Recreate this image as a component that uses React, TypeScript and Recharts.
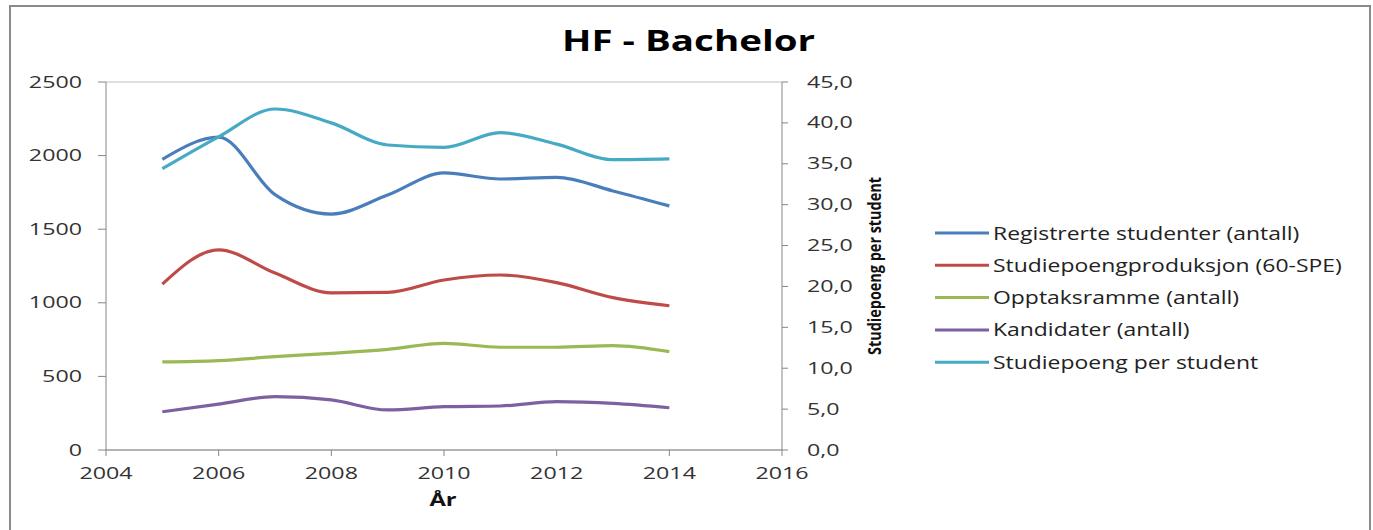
import { CartesianGrid, Legend, Line, LineChart, XAxis, YAxis } from "recharts";

const years = [2005, 2006, 2007, 2008, 2009, 2010, 2011, 2012, 2013, 2014];
const registrerte = [1975, 2125, 1735, 1603, 1732, 1882, 1841, 1852, 1760, 1658];
const produksjon = [1127, 1360, 1202, 1068, 1071, 1155, 1189, 1137, 1035, 980];
const opptaksramme = [598, 607, 634, 657, 684, 725, 698, 698, 709, 668];
const kandidater = [260, 312, 362, 340, 272, 294, 299, 328, 317, 287];
const spPerStudent = [34.4, 38.3, 41.7, 40.0, 37.3, 37.0, 38.8, 37.4, 35.5, 35.6];

const xTicks = [2004, 2006, 2008, 2010, 2012, 2014, 2016];
const leftTicks = [0, 500, 1000, 1500, 2000, 2500];
const rightTicks = [0, 5, 10, 15, 20, 25, 30, 35, 40, 45];

const seriesKeys = ["registrerte", "produksjon", "opptaksramme", "kandidater", "spPerStudent"];
const seriesNames = [
	"Registrerte studenter (antall)",
	"Studiepoengproduksjon (60-SPE)",
	"Opptaksramme (antall)",
	"Kandidater (antall)",
	"Studiepoeng per student",
];
const seriesColors = ["#4A7EBB", "#BE4B48", "#98B954", "#7D60A0", "#46AAC5"];

const data = years.map((year, i) => ({
	year,
	registrerte: registrerte[i],
	produksjon: produksjon[i],
	opptaksramme: opptaksramme[i],
	kandidater: kandidater[i],
	spPerStudent: spPerStudent[i],
}));

const FONT = "'Open Sans', sans-serif";
const AXIS = "#868686";

const fmtComma = (v: number) => v.toFixed(1).replace(".", ",");

const makeTick =
	(fmt: (v: number) => string, dy: string) =>
	(props: any) => {
		const { x, y, payload, textAnchor } = props;
		return (
			<text
				transform={`translate(${x},${y}) scale(1.5,1)`}
				textAnchor={textAnchor}
				dy={dy}
				fontFamily={FONT}
				fontSize={15.5}
				fill='#333'
			>
				{fmt(payload.value)}
			</text>
		);
	};

const LegendBox = () => (
	<svg width={440} height={170}>
		{seriesNames.map((name, i) => {
			const cy = 15 + i * 32.3;
			return (
				<g key={name}>
					<line x1={5} x2={59} y1={cy} y2={cy} stroke={seriesColors[i]} strokeWidth={3} />
					<text
						transform={`translate(63,${cy + 6.5}) scale(1.24,1)`}
						fontFamily={FONT}
						fontSize={18.5}
						fill='#222'
					>
						{name}
					</text>
				</g>
			);
		})}
	</svg>
);

export default function App() {
	return (
		<div style={{ position: "absolute", left: 0, top: 0, width: 1373, height: 530, overflow: "hidden", background: "#fff" }}>
			<div
				style={{
					position: "absolute",
					left: 9,
					top: 5,
					width: 1358,
					height: 530,
					border: "2px solid #8a8a8a",
					borderBottom: "none",
				}}
			/>
			<div style={{ position: "absolute", left: 0, top: 0 }}>
				<LineChart
					width={1373}
					height={530}
					data={data}
					margin={{ top: 82, right: 411, bottom: 20, left: 46 }}
				>
					<CartesianGrid vertical={false} stroke='#bfbfbf' />
					<XAxis
						dataKey='year'
						type='number'
						domain={[2004, 2016]}
						ticks={xTicks}
						height={60}
						tickSize={6}
						tickMargin={12}
						stroke={AXIS}
						tick={makeTick((v) => String(v), "0.71em")}
						label={{
							content: () => (
								<text
									transform='translate(443,506) scale(1.4,1)'
									textAnchor='middle'
									fontFamily={FONT}
									fontWeight='bold'
									fontSize={17}
									fill='#111'
								>
									År
								</text>
							),
						}}
					/>
					<YAxis
						yAxisId='left'
						domain={[0, 2500]}
						ticks={leftTicks}
						width={60}
						tickSize={8}
						tickMargin={16}
						stroke={AXIS}
						tick={makeTick((v) => String(v), "0.36em")}
					/>
					<YAxis
						yAxisId='right'
						orientation='right'
						domain={[0, 45]}
						ticks={rightTicks}
						width={180}
						tickSize={6}
						tickMargin={19}
						stroke={AXIS}
						tick={makeTick(fmtComma, "0.36em")}
						label={{
							content: () => (
								<text
									transform='translate(881,266) rotate(-90) scale(1,1.4)'
									textAnchor='middle'
									fontFamily={FONT}
									fontWeight='bold'
									fontSize={13.3}
									textLength={178}
									lengthAdjust='spacingAndGlyphs'
									fill='#111'
								>
									Studiepoeng per student
								</text>
							),
						}}
					/>
					<Legend
						layout='vertical'
						align='center'
						verticalAlign='middle'
						wrapperStyle={{ left: 930, top: 218, width: 440, height: 170 }}
						content={() => <LegendBox />}
					/>
					{seriesKeys.map((key, i) => (
						<Line
							key={key}
							yAxisId={key === "spPerStudent" ? "right" : "left"}
							type='monotone'
							dataKey={key}
							name={seriesNames[i]}
							stroke={seriesColors[i]}
							strokeWidth={3.2}
							dot={false}
							isAnimationActive={false}
						/>
					))}
				</LineChart>
			</div>
			<svg style={{ position: "absolute", left: 0, top: 0, pointerEvents: "none" }} width={1373} height={80}>
				<text
					x={688.5}
					y={51}
					textAnchor='middle'
					fontFamily={FONT}
					fontWeight='bold'
					fontSize={29.4}
					textLength={253}
					lengthAdjust='spacingAndGlyphs'
					fill='#000'
				>
					HF - Bachelor
				</text>
			</svg>
		</div>
	);
}
